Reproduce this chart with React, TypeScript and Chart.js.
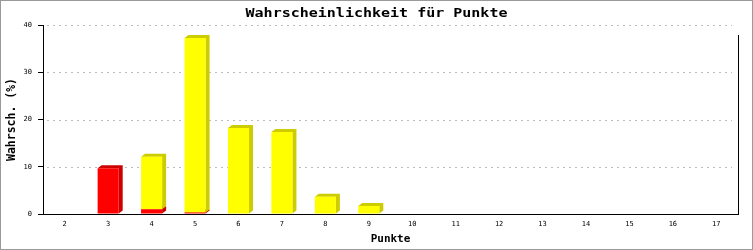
import React, { useEffect, useRef } from 'react';
import { Chart, registerables } from 'chart.js';

Chart.register(...registerables);

const categories = ['2', '3', '4', '5', '6', '7', '8', '9', '10', '11', '12', '13', '14', '15', '16', '17'];
const redValues = [0, 9.7, 1.0, 0.3, 0, 0, 0, 0, 0, 0, 0, 0, 0, 0, 0, 0];
const yellowValues = [0, 0, 11.1, 36.95, 18.2, 17.35, 3.66, 1.7, 0, 0, 0, 0, 0, 0, 0, 0];
const yMin = 0;
const yMax = 40;
const yStep = 10;

const chartTitle = 'Wahrscheinlichkeit für Punkte';
const yTitle = 'Wahrsch. (%)';
const xTitle = 'Punkte';

const MONO = '"DejaVu Sans Mono", "Liberation Mono", monospace';

const framePlugin = {
  id: 'frame',
  beforeDraw(chart: any) {
    const { ctx, width, height } = chart;
    ctx.save();
    ctx.fillStyle = '#ffffff';
    ctx.fillRect(0, 0, width, height);
    ctx.restore();
  },
  beforeDatasetsDraw(chart: any) {
    const { ctx, chartArea } = chart;
    const yScale = chart.scales.y;
    // dotted grid lines
    ctx.save();
    ctx.strokeStyle = '#bdbdbd';
    ctx.lineWidth = 1;
    ctx.setLineDash([2, 4]);
    yScale.ticks.forEach((t: any) => {
      if (t.value === 0) return;
      const py = Math.round(yScale.getPixelForValue(t.value)) + 0.5;
      ctx.beginPath();
      ctx.moveTo(chartArea.left + 4, py);
      ctx.lineTo(chartArea.right - 6, py);
      ctx.stroke();
    });
    ctx.restore();

    // 3D side/top faces
    const dx = 4;
    const dy = 3;
    chart.data.datasets.forEach((ds: any, i: number) => {
      const meta = chart.getDatasetMeta(i);
      meta.data.forEach((bar: any, j: number) => {
        const v = ds.data[j];
        if (!v) return;
        const { x, y, base, width } = bar.getProps(['x', 'y', 'base', 'width'], true);
        const x1 = x - width / 2;
        const x2 = x + width / 2;
        ctx.save();
        ctx.fillStyle = ds.sideColor;
        ctx.beginPath();
        ctx.moveTo(x1, y);
        ctx.lineTo(x1 + dx, y - dy);
        ctx.lineTo(x2 + dx, y - dy);
        ctx.lineTo(x2 + dx, base - dy);
        ctx.lineTo(x2, base);
        ctx.lineTo(x2, y);
        ctx.closePath();
        ctx.fill();
        ctx.restore();
      });
    });
  },
  afterDraw(chart: any) {
    const { ctx, chartArea, width, height } = chart;
    ctx.save();
    // right axis line
    ctx.strokeStyle = '#000000';
    ctx.lineWidth = 1;
    ctx.beginPath();
    ctx.moveTo(Math.round(chartArea.right) + 0.5, chartArea.top + 10);
    ctx.lineTo(Math.round(chartArea.right) + 0.5, chartArea.bottom);
    ctx.stroke();
    // outer frame
    ctx.strokeStyle = '#9a9a9a';
    ctx.lineWidth = 2;
    ctx.strokeRect(0, 0, width, height);
    // title
    ctx.fillStyle = '#000000';
    ctx.font = `bold 12px ${MONO}`;
    ctx.textAlign = 'center';
    ctx.textBaseline = 'middle';
    ctx.translate(width / 2, 13.5);
    ctx.scale(1.25, 1);
    ctx.fillText(chartTitle, 0, 0);
    ctx.restore();
  },
};

export default function App() {
  const canvasRef = useRef<HTMLCanvasElement | null>(null);

  useEffect(() => {
    const canvas = canvasRef.current;
    if (!canvas) return;
    const chart = new Chart(canvas, {
      type: 'bar',
      data: {
        labels: categories,
        datasets: [
          {
            label: 'rot',
            data: redValues,
            backgroundColor: '#ff0000',
            sideColor: '#cc0000',
            borderWidth: 0,
            categoryPercentage: 1,
            barPercentage: 0.485,
          } as any,
          {
            label: 'gelb',
            data: yellowValues,
            backgroundColor: '#ffff00',
            sideColor: '#cccc00',
            borderWidth: 0,
            categoryPercentage: 1,
            barPercentage: 0.485,
          } as any,
        ],
      },
      options: {
        responsive: false,
        animation: false,
        devicePixelRatio: 1,
        layout: { padding: { top: 25, right: 15, left: 0, bottom: 0 } },
        plugins: {
          legend: { display: false },
          tooltip: { enabled: false },
          title: { display: false },
        },
        scales: {
          x: {
            stacked: true,
            offset: true,
            grid: { display: false, drawTicks: false },
            border: { display: true, color: '#000000', width: 1 },
            ticks: {
              color: '#000000',
              font: { family: MONO, size: 7 },
              padding: 6,
              maxRotation: 0,
              autoSkip: false,
            },
            title: {
              display: true,
              text: xTitle,
              color: '#000000',
              font: { family: MONO, size: 11, weight: 'bold' },
              padding: { top: 0, bottom: 4 },
            },
            afterFit(scale: any) {
              scale.height = 36;
            },
          },
          y: {
            stacked: true,
            min: yMin,
            max: yMax,
            grid: {
              display: true,
              drawOnChartArea: false,
              drawTicks: true,
              tickLength: 5,
              tickColor: '#000000',
              color: '#000000',
            },
            border: { display: true, color: '#000000', width: 1 },
            ticks: {
              stepSize: yStep,
              color: '#000000',
              font: { family: MONO, size: 7 },
              padding: 6,
            },
            title: {
              display: true,
              text: yTitle,
              color: '#000000',
              font: { family: MONO, size: 11.5, weight: 'bold' },
              padding: { top: 5, bottom: 0 },
            },
            afterFit(scale: any) {
              scale.width = 43;
            },
          },
        },
      } as any,
      plugins: [framePlugin],
    });
    return () => chart.destroy();
  }, []);

  return (
    <div style={{ position: 'absolute', left: 0, top: 0, width: 753, height: 250 }}>
      <canvas ref={canvasRef} width={753} height={250} style={{ display: 'block' }} />
    </div>
  );
}
